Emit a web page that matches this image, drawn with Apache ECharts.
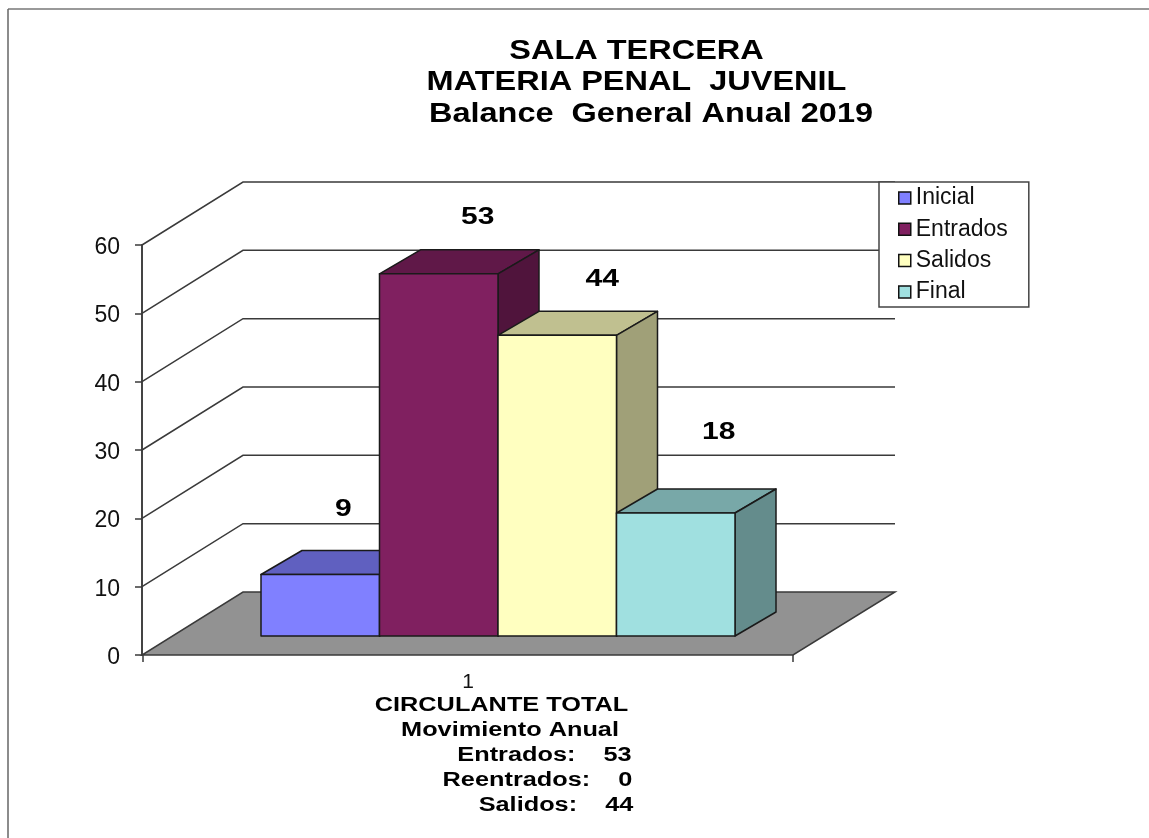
<!DOCTYPE html>
<html>
<head>
<meta charset="utf-8">
<style>html,body{margin:0;padding:0;background:#fff}#c{width:1149px;height:838px}</style>
<script src="https://cdn.jsdelivr.net/npm/echarts@6/dist/echarts.min.js"></script>
</head>
<body>
<div id="c"></div>
<script>
const categories = ['1'];
const seriesNames = ['Inicial', 'Entrados', 'Salidos', 'Final'];
const inicial = [9];
const entrados = [53];
const salidos = [44];
const final_ = [18];
const barValues = [inicial, entrados, salidos, final_];
const yTicks = [10, 20, 30, 40, 50, 60];
const titleLines = ['SALA TERCERA', 'MATERIA PENAL  JUVENIL', 'Balance  General Anual 2019'];
const footerLines = ['CIRCULANTE TOTAL', 'Movimiento Anual', 'Entrados:    53', 'Reentrados:    0', 'Salidos:    44'];

const FONT = '"Liberation Sans", Arial, sans-serif';
const faceColors = ['#8080FF', '#802060', '#FFFFC0', '#A0E0E0'];
const topColors = ['#6060C0', '#601848', '#C0C090', '#78A8A8'];
const sideColors = ['#50509F', '#50143C', '#A0A078', '#648C8C'];
const DEPTH_X = 100, DEPTH_Y = -63;        // back wall offset
const BAR_IN_Y = -19;                      // bars' front plane offset from the axis plane
const BAR_DX = 41, BAR_DY = -24;           // bar depth
const BAR_SPAN = 118.5;
const GROUP_SHIFT = 30;
const labelShift = [[23, -65], [39, -56], [45, -56], [43, -81]];
const WALL_RIGHT = 895, LINE = '#3a3a3a';

function gridRender(params, api) {
  const p = api.coord([0, api.value(0)]);
  const c = params.coordSys;
  return {
    type: 'polyline',
    shape: { points: [[c.x - 1, p[1]], [c.x + DEPTH_X, p[1] + DEPTH_Y], [WALL_RIGHT, p[1] + DEPTH_Y]] },
    style: { fill: 'none', stroke: LINE, lineWidth: 1.5 }
  };
}
function floorRender(params, api) {
  const p = api.coord([0, 0]);
  const c = params.coordSys;
  return {
    type: 'polygon',
    shape: { points: [[c.x - 1, p[1]], [c.x + c.width, p[1]], [WALL_RIGHT, p[1] + DEPTH_Y], [c.x + DEPTH_X, p[1] + DEPTH_Y]] },
    style: { fill: '#929292', stroke: LINE, lineWidth: 1.5 }
  };
}
function barRender(index) {
  return function (params, api) {
    const top = api.coord([api.value(0), api.value(1)]);
    const base = api.coord([api.value(0), 0]);
    const cx = top[0] + GROUP_SHIFT;
    const x0 = cx + (index - 2) * BAR_SPAN;
    const x1 = x0 + BAR_SPAN;
    const yb = base[1] + BAR_IN_Y;
    const yt = top[1] + BAR_IN_Y;
    const st = { stroke: '#1a1a1a', lineWidth: 1.5, lineJoin: 'round' };
    return {
      type: 'group',
      children: [
        { type: 'polygon', shape: { points: [[x0, yt], [x1, yt], [x1 + BAR_DX, yt + BAR_DY], [x0 + BAR_DX, yt + BAR_DY]] }, style: Object.assign({ fill: topColors[index] }, st) },
        { type: 'polygon', shape: { points: [[x1, yt], [x1 + BAR_DX, yt + BAR_DY], [x1 + BAR_DX, yb + BAR_DY], [x1, yb]] }, style: Object.assign({ fill: sideColors[index] }, st) },
        { type: 'rect', shape: { x: x0, y: yt, width: x1 - x0, height: yb - yt }, style: Object.assign({ fill: faceColors[index] }, st) },
        { type: 'text', x: (x0 + x1) / 2 + labelShift[index][0], y: yt + labelShift[index][1], scaleX: 1.25,
          style: { text: String(api.value(1)), fill: '#000', font: 'bold 24px ' + FONT, textAlign: 'center', textVerticalAlign: 'middle' } }
      ]
    };
  };
}

const titlePos = [[636.5, 51], [636.5, 82], [651, 114]];
const footerPos = [[501.5, 705], [510, 730], [544.5, 755], [537.5, 780], [556, 805]];
function textEl(t, pos, size, sx) {
  return { type: 'text', silent: true, x: pos[0], y: pos[1], scaleX: sx, z: 10,
    style: { text: t, fill: '#000', font: 'bold ' + size + 'px ' + FONT, textAlign: 'center', textVerticalAlign: 'middle' } };
}

const chart = echarts.init(document.getElementById('c'));
chart.setOption({
  animation: false,
  backgroundColor: '#fff',
  grid: { left: 143, top: 245, width: 650, height: 410 },
  legend: {
    data: seriesNames, orient: 'vertical', left: 879, top: 182, icon: 'rect',
    itemWidth: 12, itemHeight: 12, itemGap: 8.3, padding: [4.5, 21, 3.5, 19],
    backgroundColor: '#fff', borderColor: '#444', borderWidth: 1.5,
    selectedMode: false,
    itemStyle: { borderColor: '#111', borderWidth: 1.5 },
    textStyle: { fontFamily: FONT, fontSize: 23, color: '#111' }
  },
  xAxis: {
    type: 'category', data: categories,
    axisLine: { show: false },
    axisTick: { show: true, length: 7, lineStyle: { color: LINE, width: 1.5 } },
    axisLabel: { fontFamily: FONT, fontSize: 21, color: '#111', margin: 17 }
  },
  yAxis: {
    type: 'value', min: 0, max: 60, interval: 10, offset: 1,
    splitLine: { show: false },
    axisLine: { show: true, lineStyle: { color: '#444', width: 2 } },
    axisTick: { show: true, length: 7, lineStyle: { color: LINE, width: 1.5 } },
    axisLabel: {
      margin: 22,
      formatter: '{t|{value}}',
      rich: { t: { fontFamily: FONT, fontSize: 23, color: '#111', padding: [5, 0, 0, 0] } }
    }
  },
  graphic: [
    { type: 'line', silent: true, shape: { x1: 8, y1: 9, x2: 1149, y2: 9 }, style: { stroke: '#999', lineWidth: 2 } },
    { type: 'line', silent: true, shape: { x1: 8, y1: 9, x2: 8, y2: 838 }, style: { stroke: '#666', lineWidth: 1.5 } }
  ].concat(
    titleLines.map((t, i) => textEl(t, titlePos[i], 28, 1.16)),
    footerLines.map((t, i) => textEl(t, footerPos[i], 20, 1.265))
  ),
  series: [
    { type: 'custom', name: 'walls', data: yTicks.map(v => [v]), renderItem: gridRender, clip: false, z: 1, silent: true },
    { type: 'custom', name: 'floor', data: [[0]], renderItem: floorRender, clip: false, z: 1, silent: true }
  ].concat(seriesNames.map((n, i) => ({
    type: 'custom', name: n, clip: false, z: 2, silent: true,
    itemStyle: { color: faceColors[i] },
    encode: { x: 0, y: 1 },
    data: barValues[i].map((v, k) => [k, v]),
    renderItem: barRender(i)
  })))
});
</script>
</body>
</html>
